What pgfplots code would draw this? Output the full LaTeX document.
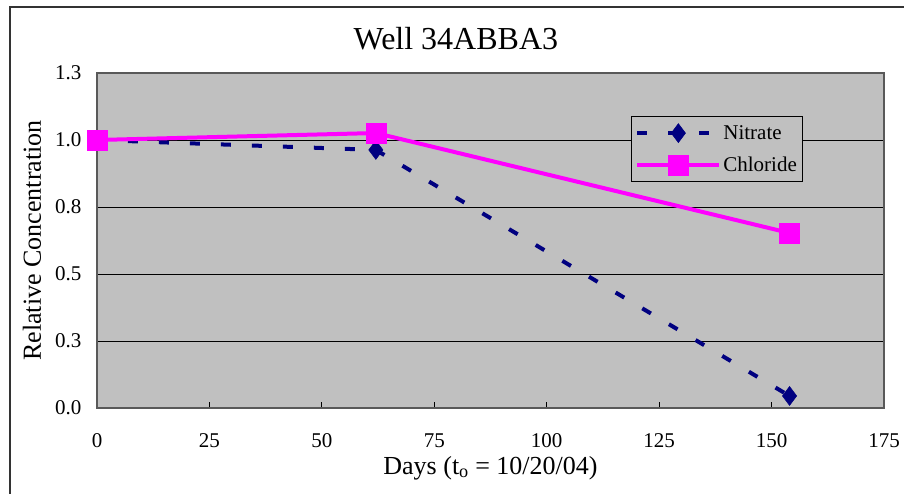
\documentclass[border=0pt]{standalone}
\usepackage{pgfplots}
\pgfplotsset{compat=1.18}
\usepackage{fontspec}
\setmainfont{Liberation Serif}
\definecolor{bggray}{RGB}{192,192,192}
\definecolor{navyc}{RGB}{0,0,128}
\definecolor{magc}{RGB}{255,0,255}
\begin{document}
\begin{tikzpicture}
\useasboundingbox (0pt,0pt) rectangle (904pt,493pt);
\draw[line width=2pt, black!80] (10pt,-20pt) -- (10pt,486pt) -- (950pt,486pt);
\begin{axis}[
  at={(97pt,85pt)}, anchor=south west,
  scale only axis, width=787pt, height=335pt,
  xmin=0, xmax=175, ymin=0, ymax=1.25,
  xtick={0,25,...,175},
  ytick={0,0.25,0.5,0.75,1.0,1.25},
  yticklabels={0.0,0.3,0.5,0.8,1.0,1.3},
  /pgf/number format/assume math mode=true,
  axis background/.style={fill=bggray},
  axis line style={line width=1.5pt, black!65},
  ymajorgrids, major grid style={black, line width=0.8pt},
  tick align=inside, major tick length=6pt,
  tick style={black, line width=0.8pt},
  xtick pos=bottom, ytick pos=left,
  ytick style={draw=none},
  tick label style={font=\fontsize{21}{24}\selectfont},
  xticklabel style={yshift=-22pt},
  yticklabel style={xshift=-12pt},
  xlabel={Days (t\textsubscript{o} = 10/20/04)},
  ylabel={Relative Concentration},
  label style={font=\fontsize{26}{30}\selectfont},
  xlabel style={at={(axis description cs:0.5,-0.179)}, anchor=center},
  ylabel style={at={(axis description cs:-0.0826,0.5)}, anchor=center, rotate=0},
  title={Well 34ABBA3},
  title style={font=\fontsize{32}{36}\selectfont, at={(axis description cs:0.456,1.0836)}, anchor=center},
  clip=false,
  legend style={at={(0.6785,0.8716)}, anchor=north west, draw=black, line width=0.8pt,
    fill=bggray, font=\fontsize{21}{25}\selectfont, row sep=12pt,
    inner xsep=4pt, inner ysep=7pt},
  legend cell align=left,
  legend image code/.code={
    \draw[#1, mark=none] (0pt,0pt) -- (82pt,0pt);
    \draw[#1, solid] plot coordinates {(41pt,0pt)};
  },
]
\addplot[navyc, line width=4pt, dash pattern=on 10pt off 21pt,
  mark=diamond*, mark size=9.5pt, mark options={solid, fill=navyc, line width=0.5pt}]
  coordinates {(0,1.0) (62,0.963) (154,0.045)};
\addlegendentry{Nitrate}
\addplot[magc, line width=4pt, mark=square*, mark size=10pt,
  mark options={solid, fill=magc, line width=0.5pt}]
  coordinates {(0,1.0) (62,1.026) (154,0.653)};
\addlegendentry{Chloride}
\end{axis}
\end{tikzpicture}
\end{document}
